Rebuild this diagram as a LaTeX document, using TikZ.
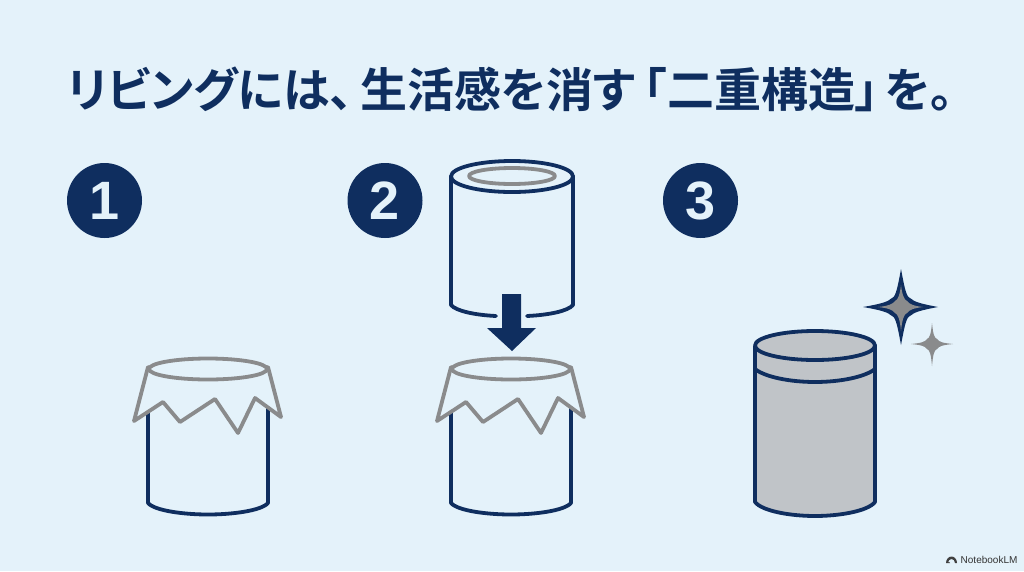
\documentclass[tikz,border=0pt]{standalone}
\usepackage{fontspec}
\newfontfamily\cjkbold[RawFeature={+palt}]{Noto Sans CJK JP Bold}
\newfontfamily\latinlabel{Liberation Sans}
\definecolor{paper}{HTML}{E4F2FA}
\definecolor{navy}{HTML}{0F2E5F}
\definecolor{ash}{HTML}{8A8B8C}
\definecolor{canfill}{HTML}{C0C4C8}
\tikzset{
  navyline/.style={draw=navy,line width=3.8pt,line cap=round,line join=round},
  ashline/.style={draw=ash,line width=3.8pt,line cap=round,line join=round},
  badge/.style={circle,fill=navy,text=paper,minimum size=75pt,inner sep=0pt,font=\latinlabel\bfseries\fontsize{54}{54}\selectfont},
  headline/.style={anchor=base west,inner sep=0pt,text=navy,font=\cjkbold\fontsize{47}{47}\selectfont},
  % open can with a torn paper cover hanging over its rim; origin at the rim centre
  covered can/.pic={
    \draw[navyline] (-60,0) -- (-60,134) .. controls (-53,142) and (-23,145.5) .. (0,145.5)
      .. controls (23,145.5) and (53,142) .. (60,134) -- (60,0);
    \fill[paper] (-60,-2) -- (-74,52) -- (-45,33) -- (-28,53) -- (7,30) -- (30,64) -- (47,29) -- (73,48) -- (60,-2) -- cycle;
    \draw[ashline] (-60,-2) -- (-74,52) -- (-45,33) -- (-28,53) -- (7,30) -- (30,64) -- (47,29) -- (73,48) -- (60,-2);
    \draw[ashline] (0,0) ellipse [x radius=59pt,y radius=10.5pt];
  }
}
\begin{document}
\begin{tikzpicture}[x=1pt,y=-1pt]
\fill[paper] (0,0) rectangle (1024,571);
\useasboundingbox (0,0) rectangle (1024,571);

\node[headline] (title) at (67,107) {リビングには、\hspace{7pt}生活感を消す\hspace{8pt}「二重構造」\hspace{6pt}を。};

\node[badge] (one) at (104.5,200.5) {1};
\node[badge] (two) at (385,200.5) {2};
\node[badge] (three) at (700.5,200.5) {3};

% first step: the covered can alone
\pic at (208,369) {covered can};

% second step: sleeve lowered over the covered can
\pic at (511,369) {covered can};
\draw[navyline] (451,176) -- (451,305) .. controls (456,311) and (475,315) .. (496,316);
\draw[navyline] (573,176) -- (573,305) .. controls (568,311) and (549,315) .. (527,316);
\draw[navyline] (512,176.5) ellipse [x radius=61pt,y radius=15.5pt];
\draw[ashline] (512,176) ellipse [x radius=43pt,y radius=8pt];
\fill[navy] (502,294) -- (521,294) -- (521,328) -- (536,328) -- (512,351) -- (487,328) -- (502,328) -- cycle;

% third step: finished can with sparkles
\path[fill=canfill] (755,346) -- (755,502) .. controls (762,511) and (790,516) .. (815,516)
  .. controls (840,516) and (868,511) .. (875,502) -- (875,346)
  .. controls (875,337) and (845,331) .. (815,331) .. controls (785,331) and (755,337) .. (755,346) -- cycle;
\draw[navyline] (755,346) -- (755,502) .. controls (762,511) and (790,516) .. (815,516)
  .. controls (840,516) and (868,511) .. (875,502) -- (875,346);
\draw[navyline] (815,345.5) ellipse [x radius=60pt,y radius=14.5pt];
\draw[navyline] (755,369) .. controls (765,377) and (790,382) .. (815,382)
  .. controls (840,382) and (865,377) .. (875,369);
\fill[navy]
  (901,269) .. controls (904,285) and (906,297) .. (910,298)
  .. controls (914,302) and (922,304) .. (938,307)
  .. controls (922,310) and (914,312) .. (910,316)
  .. controls (906,317) and (904,329) .. (901,345)
  .. controls (898,329) and (896,317) .. (892,316)
  .. controls (888,312) and (880,310) .. (863,307)
  .. controls (880,304) and (888,302) .. (892,298)
  .. controls (896,297) and (898,285) .. (901,269) -- cycle;
\fill[ash]
  (901,285) .. controls (902,294) and (904,300) .. (907,301)
  .. controls (909,304) and (914,306) .. (923,307)
  .. controls (914,308) and (909,310) .. (907,313)
  .. controls (904,314) and (902,320) .. (901,331)
  .. controls (900,320) and (898,314) .. (895,313)
  .. controls (893,310) and (888,308) .. (878,307)
  .. controls (888,306) and (893,304) .. (895,301)
  .. controls (898,300) and (900,294) .. (901,285) -- cycle;
\fill[ash] (932,323) .. controls (933,333) and (934,338) .. (937,339)
  .. controls (939,342) and (943,343) .. (953,344)
  .. controls (943,345) and (939,346) .. (937,349)
  .. controls (934,350) and (933,355) .. (932,366)
  .. controls (931,355) and (930,350) .. (927,349)
  .. controls (925,346) and (921,345) .. (911,344)
  .. controls (921,343) and (925,342) .. (927,339)
  .. controls (930,338) and (931,333) .. (932,323) -- cycle;

% product mark in the corner
\fill[black!75] (946,563) arc[start angle=180,end angle=0,x radius=5.5pt,y radius=6.5pt]
  -- (955,563) arc[start angle=0,end angle=180,x radius=3.5pt,y radius=4pt] -- (950,563)
  arc[start angle=0,end angle=180,x radius=1pt,y radius=1pt] -- cycle;
\node[anchor=base west,inner sep=0pt,text=black!80,font=\latinlabel\fontsize{10}{10}\selectfont] (mark) at (960.5,563) {NotebookLM};
\end{tikzpicture}
\end{document}
